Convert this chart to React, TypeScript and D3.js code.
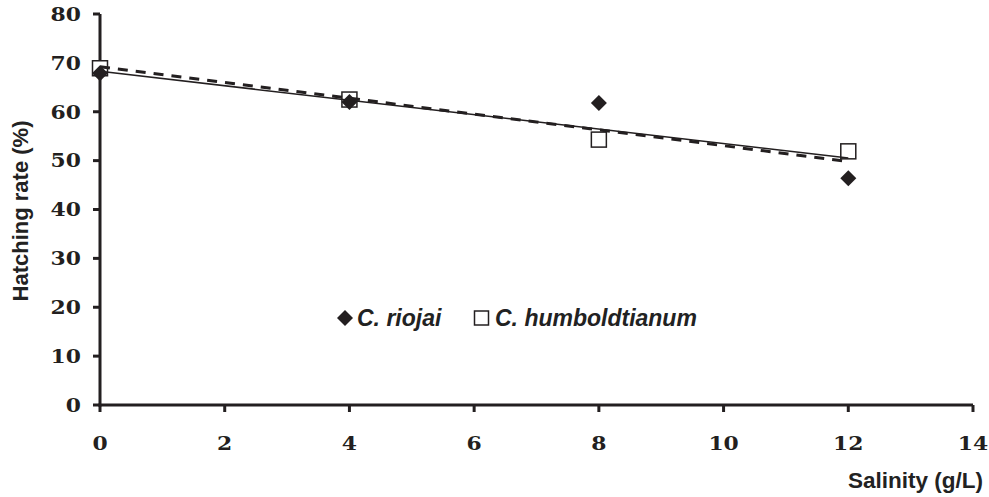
import React from "react";
import * as d3 from "d3";

const salinity = [0, 4, 8, 12];
const riojai = [67.9, 62.0, 61.8, 46.4];
const humboldtianum = [68.9, 62.5, 54.3, 51.9];
const xTicks = [0, 2, 4, 6, 8, 10, 12, 14];
const yTicks = [0, 10, 20, 30, 40, 50, 60, 70, 80];
const seriesNames = ["C. riojai", "C. humboldtianum"];
const xTitle = "Salinity (g/L)";
const yTitle = "Hatching rate (%)";

const W = 989, H = 497;
const ink = "#231f20";

function fit(xs: number[], ys: number[]) {
  const mx = d3.mean(xs)!, my = d3.mean(ys)!;
  let num = 0, den = 0;
  xs.forEach((x, i) => { num += (x - mx) * (ys[i] - my); den += (x - mx) ** 2; });
  const b = num / den;
  return { a: my - b * mx, b };
}

export default function App() {
  const x = d3.scaleLinear().domain([0, 14]).range([100, 973]);
  const y = d3.scaleLinear().domain([0, 80]).range([405, 14]);
  const xr = d3.extent(salinity) as [number, number];
  const fR = fit(salinity, riojai);
  const fH = fit(salinity, humboldtianum);
  const lineGen = d3.line<[number, number]>();
  const lineR = lineGen(xr.map((v) => [x(v), y(fR.a + fR.b * v)] as [number, number]));
  const lineH = lineGen(xr.map((v) => [x(v), y(fH.a + fH.b * v)] as [number, number]));
  const diamond = (cx: number, cy: number, r = 8) =>
    `M${cx},${cy - r}L${cx + r},${cy}L${cx},${cy + r}L${cx - r},${cy}Z`;
  const tickFont = { fontFamily: "'DejaVu Serif', serif", fontWeight: 700, fontSize: 19 };
  const sansBold = { fontFamily: "'Liberation Sans', Arial, sans-serif", fontWeight: 700 };
  const sx = 1.15;

  return (
    <svg width={W} height={H} style={{ position: "absolute", left: 0, top: 0, background: "#fff" }}>
      {yTicks.map((t) => (
        <g key={"y" + t}>
          <line x1={93} x2={100} y1={y(t)} y2={y(t)} stroke={ink} strokeWidth={3} />
          <text transform={`translate(81,${y(t)}) scale(${sx},1)`} dy="0.36em" textAnchor="end" fill={ink} {...tickFont}>{t}</text>
        </g>
      ))}
      {xTicks.map((t) => (
        <g key={"x" + t}>
          <line x1={x(t)} x2={x(t)} y1={405} y2={412} stroke={ink} strokeWidth={3} />
          <text transform={`translate(${x(t)},450) scale(${sx},1)`} textAnchor="middle" fill={ink} {...tickFont}>{t}</text>
        </g>
      ))}
      <line x1={100} x2={100} y1={y(80)} y2={y(0) + 1.5} stroke={ink} strokeWidth={3} />
      <line x1={98.5} x2={x(14)} y1={y(0)} y2={y(0)} stroke={ink} strokeWidth={3} />

      {salinity.map((s, i) => (
        <rect key={"h" + i} x={x(s) - 7.5} y={y(humboldtianum[i]) - 7.5} width={15} height={15}
          fill="#fff" stroke={ink} strokeWidth={1.5} />
      ))}
      <path d={lineH!} fill="none" stroke={ink} strokeWidth={1.5} />
      <path d={lineR!} fill="none" stroke={ink} strokeWidth={3} strokeDasharray="10,8" />
      {salinity.map((s, i) => (
        <path key={"r" + i} d={diamond(x(s), y(riojai[i]))} fill={ink} />
      ))}

      <path d={diamond(345, 318)} fill={ink} />
      <text x={357} y={326} fill="#222" fontStyle="italic" fontSize={23} {...sansBold}>{seriesNames[0]}</text>
      <rect x={474.5} y={311} width={14} height={14} fill="#fff" stroke={ink} strokeWidth={1.5} />
      <text x={495} y={326} fill="#222" fontStyle="italic" fontSize={23} {...sansBold}>{seriesNames[1]}</text>

      <text x={983} y={488} textAnchor="end" fill="#222" fontSize={22.5} {...sansBold}>{xTitle}</text>
      <text transform="translate(28,211) rotate(-90)" textAnchor="middle" fill="#222" fontSize={22} {...sansBold}>{yTitle}</text>
    </svg>
  );
}
